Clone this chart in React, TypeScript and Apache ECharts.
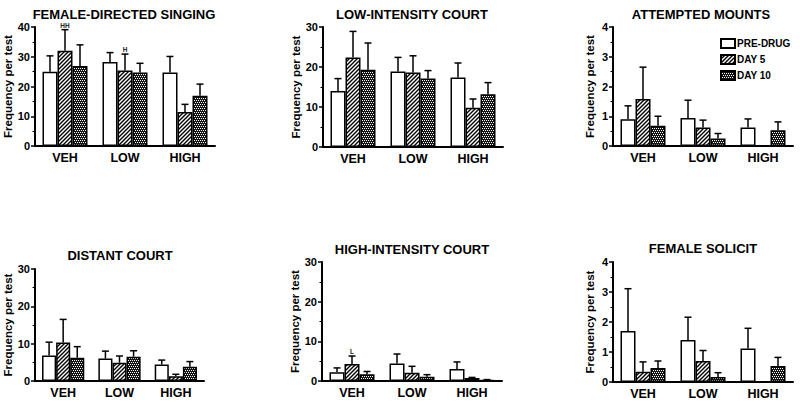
import React, { useEffect, useRef } from "react";
import * as echarts from "echarts";

const CATEGORIES = ["VEH", "LOW", "HIGH"];
const SERIES_NAMES = ["PRE-DRUG", "DAY 5", "DAY 10"];
const PANEL_TITLES = [
  "FEMALE-DIRECTED SINGING",
  "LOW-INTENSITY COURT",
  "ATTEMPTED MOUNTS",
  "DISTANT COURT",
  "HIGH-INTENSITY COURT",
  "FEMALE SOLICIT",
];
const Y_MAX = [40, 30, 4, 30, 30, 4];
const Y_INTERVAL = [10, 10, 1, 10, 10, 1];

// Panel 1: female-directed singing
const singingMean = [[25.0, 28.2, 24.7], [32.0, 25.4, 11.4], [26.9, 24.7, 16.9]];
const singingErr = [[30.3, 31.4, 30.1], [39.1, 30.9, 14.0], [34.0, 27.8, 20.8]];
// Panel 2: low-intensity court
const lowCourtMean = [[14.0, 18.9, 17.4], [22.4, 18.6, 9.8], [19.3, 17.1, 13.2]];
const lowCourtErr = [[17.1, 22.4, 21.0], [28.9, 22.8, 12.0], [26.0, 19.1, 16.1]];
// Panel 3: attempted mounts
const mountsMean = [[0.9, 0.94, 0.62], [1.58, 0.62, 0], [0.68, 0.25, 0.53]];
const mountsErr = [[1.35, 1.54, 0.91], [2.65, 0.87, 0], [1.0, 0.42, 0.81]];
// Panel 4: distant court
const distantMean = [[6.8, 6.0, 4.4], [10.3, 4.9, 1.3], [6.2, 6.5, 3.8]];
const distantErr = [[10.4, 8.0, 5.6], [16.5, 6.7, 1.8], [9.2, 8.1, 5.2]];
// Panel 5: high-intensity court
const highCourtMean = [[2.2, 4.4, 3.0], [4.3, 2.1, 0.76], [1.7, 1.1, 0.3]];
const highCourtErr = [[3.3, 6.8, 4.8], [6.3, 3.7, 0.9], [2.4, 1.6, 0.35]];
// Panel 6: female solicit
const solicitMean = [[1.7, 1.4, 1.12], [0.34, 0.7, 0], [0.47, 0.17, 0.53]];
const solicitErr = [[3.11, 2.16, 1.79], [0.67, 1.05, 0], [0.7, 0.31, 0.82]];

const PANEL_MEANS = [singingMean, lowCourtMean, mountsMean, distantMean, highCourtMean, solicitMean];
const PANEL_ERRS = [singingErr, lowCourtErr, mountsErr, distantErr, highCourtErr, solicitErr];

// annotations: [panel, series, category, text]
const ANNOTATIONS: [number, number, number, string][] = [
  [0, 1, 0, "HH"],
  [0, 1, 1, "H"],
  [4, 1, 0, "L"],
];

const GRIDS = [
  { left: 35, top: 27, width: 180, height: 119 },
  { left: 323, top: 27, width: 180, height: 120 },
  { left: 613, top: 27, width: 180, height: 119 },
  { left: 35, top: 269, width: 169, height: 112 },
  { left: 322, top: 262, width: 180, height: 119 },
  { left: 613, top: 262, width: 180, height: 120 },
];
const TITLE_POS = [
  [124, 8], [412, 8], [701, 8], [120, 249], [412, 243], [703, 242],
];

const FONT = "Liberation Sans, Arial, sans-serif";

function makeHatch() {
  const c = document.createElement("canvas");
  c.width = 4; c.height = 4;
  const ctx = c.getContext("2d")!;
  ctx.fillStyle = "#fff";
  ctx.fillRect(0, 0, 4, 4);
  ctx.strokeStyle = "#000";
  ctx.lineWidth = 1.4;
  ctx.beginPath();
  ctx.moveTo(-1, 5); ctx.lineTo(5, -1);
  ctx.moveTo(-1, 1); ctx.lineTo(1, -1);
  ctx.moveTo(3, 5); ctx.lineTo(5, 3);
  ctx.stroke();
  return c;
}

function makeChecker() {
  const c = document.createElement("canvas");
  c.width = 4; c.height = 4;
  const ctx = c.getContext("2d")!;
  ctx.fillStyle = "#151515";
  ctx.fillRect(0, 0, 4, 4);
  ctx.fillStyle = "#fff";
  ctx.fillRect(0, 0, 1, 1);
  ctx.fillRect(2, 0, 1, 1);
  ctx.fillRect(1, 2, 1, 1);
  ctx.fillRect(3, 2, 1, 1);
  return c;
}

export default function App() {
  const ref = useRef<HTMLDivElement>(null);
  useEffect(() => {
    if (!ref.current) return;
    const chart = echarts.init(ref.current, undefined, { renderer: "svg" });
    const fills: any[] = [
      "#ffffff",
      { image: makeHatch(), repeat: "repeat" },
      { image: makeChecker(), repeat: "repeat" },
    ];

    const grid = GRIDS.map((g) => ({ ...g, containLabel: false }));
    const xAxis = GRIDS.map((_, i) => ({
      type: "category",
      gridIndex: i,
      data: CATEGORIES,
      axisLine: { lineStyle: { color: "#000", width: 2 } },
      axisTick: { show: false },
      axisLabel: { color: "#000", fontWeight: "bold", fontSize: 12.5, fontFamily: FONT, margin: 5 },
    }));
    const yAxis = GRIDS.map((_, i) => ({
      type: "value",
      gridIndex: i,
      min: 0,
      max: Y_MAX[i],
      interval: Y_INTERVAL[i],
      name: "Frequency per test",
      nameLocation: "middle",
      nameRotate: 90,
      nameGap: 17,
      nameTextStyle: { color: "#000", fontWeight: "bold", fontSize: 11.5, fontFamily: FONT },
      axisLine: { show: true, lineStyle: { color: "#000", width: 2 } },
      axisTick: { show: true, length: 4, lineStyle: { color: "#000", width: 1.5 } },
      minorTick: { show: true, splitNumber: 2, length: 2.5, lineStyle: { color: "#000", width: 1 } },
      splitLine: { show: false },
      axisLabel: { color: "#000", fontWeight: "bold", fontSize: 11, fontFamily: FONT, margin: 5 },
    }));

    const series: any[] = [];
    PANEL_MEANS.forEach((means, p) => {
      means.forEach((vals, s) => {
        series.push({
          type: "bar",
          name: SERIES_NAMES[s],
          xAxisIndex: p,
          yAxisIndex: p,
          data: vals,
          barGap: "0%",
          barCategoryGap: "25%",
          itemStyle: { color: fills[s], borderColor: "#000", borderWidth: 1.5 },
          emphasis: { disabled: true },
        });
      });
      const errData: number[][] = [];
      const annText: string[] = [];
      means.forEach((vals, s) => {
        vals.forEach((v, c) => {
          errData.push([c, s, v, PANEL_ERRS[p][s][c]]);
          const a = ANNOTATIONS.find((x) => x[0] === p && x[1] === s && x[2] === c);
          annText.push(a ? a[3] : "");
        });
      });
      series.push({
        type: "custom",
        xAxisIndex: p,
        yAxisIndex: p,
        data: errData,
        encode: { x: 0, y: [2, 3] },
        z: 5,
        silent: true,
        itemStyle: { color: "#000" },
        renderItem: (params: any, api: any) => {
          const cat = api.value(0);
          const s = api.value(1);
          const v = api.value(2);
          const e = api.value(3);
          const band = api.size([1, 0])[0];
          const bw = (band * 0.75) / 3;
          const p0 = api.coord([cat, v]);
          const p1 = api.coord([cat, e]);
          const x = p0[0] + (s - 1) * bw;
          const children: any[] = [];
          if (e > v) {
            children.push({
              type: "line",
              shape: { x1: x, y1: p0[1], x2: x, y2: p1[1] },
              style: { stroke: "#000", lineWidth: 1.5 },
            });
            children.push({
              type: "line",
              shape: { x1: x - 3.5, y1: p1[1], x2: x + 3.5, y2: p1[1] },
              style: { stroke: "#000", lineWidth: 1.5 },
            });
          }
          const t = annText[params.dataIndex];
          if (t) {
            children.push({
              type: "text",
              x: x,
              y: p1[1] - 1,
              style: {
                text: t,
                textAlign: "center",
                textVerticalAlign: "bottom",
                font: "bold 6.5px " + FONT,
                fill: "#222",
              },
            });
          }
          return { type: "group", children };
        },
      });
    });

    const graphic = PANEL_TITLES.map((t, i) => ({
      type: "text",
      x: TITLE_POS[i][0],
      y: TITLE_POS[i][1],
      style: {
        text: t,
        textAlign: "center",
        textVerticalAlign: "top",
        font: "bold 13px " + FONT,
        fill: "#000",
      },
    }));

    chart.setOption({
      animation: false,
      backgroundColor: "#fff",
      grid,
      xAxis,
      yAxis,
      series,
      graphic,
      legend: {
        data: SERIES_NAMES,
        orient: "vertical",
        left: 715,
        top: 33,
        itemWidth: 14,
        itemHeight: 9,
        itemGap: 5,
        selectedMode: false,
        icon: "rect",
        textStyle: { color: "#000", fontWeight: "bold", fontSize: 10, fontFamily: FONT, padding: [0, 0, 0, -3] },
      },
    });
    return () => chart.dispose();
  }, []);
  return (
    <div
      ref={ref}
      style={{ position: "absolute", left: 0, top: 0, width: 800, height: 404, background: "#fff" }}
    />
  );
}
